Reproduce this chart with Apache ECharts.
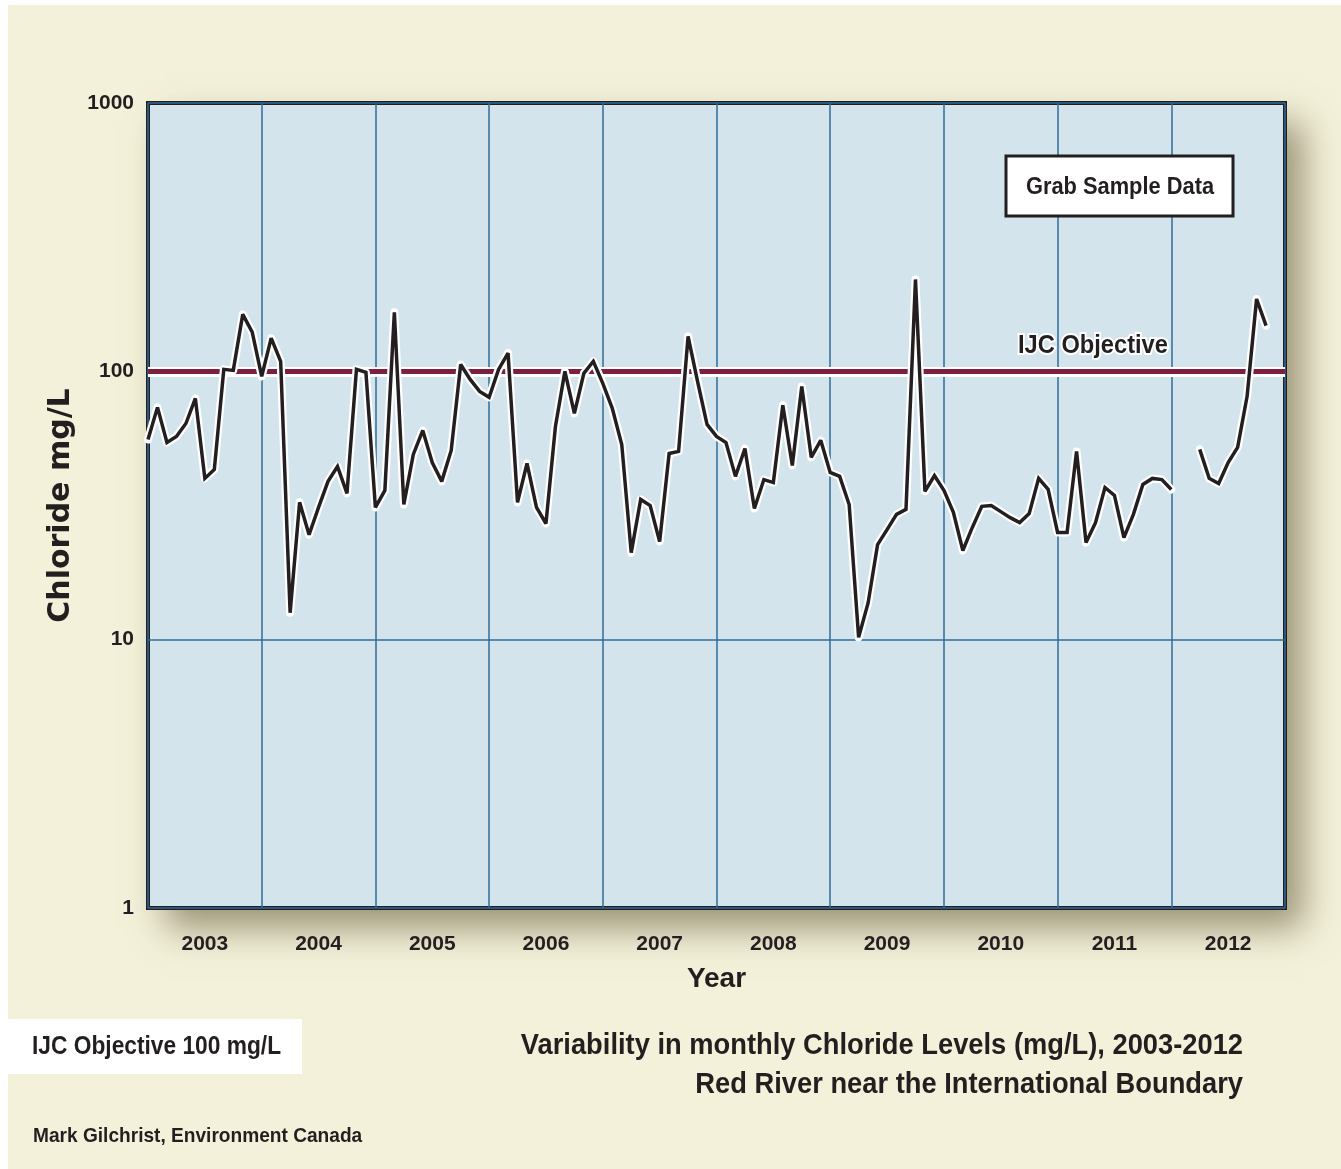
<!DOCTYPE html>
<html>
<head>
<meta charset="utf-8">
<script src="https://cdn.jsdelivr.net/npm/echarts@6/dist/echarts.min.js"></script>
<style>
  html, body { margin: 0; padding: 0; background: #ffffff; }
  #chart { width: 1341px; height: 1169px; }
</style>
</head>
<body>
<div id="chart"></div>
<script>
// monthly chloride (mg/L), Jan 2003 onward; null = no sample
var years = ['2003', '2004', '2005', '2006', '2007', '2008', '2009', '2010', '2011', '2012'];
var chloride = [
    55.7, 73.4, 54.3, 57.2, 63.9, 79.3, 39.9, 43.1, 101.7, 100.8, 163, 140,
    95.8, 133, 109, 12.6, 32.5, 24.6, 31.1, 38.9, 44.2, 35.1, 101.7, 99.1,
    31.1, 36.0, 166, 31.9, 49.0, 60.2, 45.7, 38.9, 50.7, 106, 93.3, 84.2,
    80.0, 101.7, 117, 32.5, 45.4, 31.1, 27.1, 62.3, 100, 69.7, 98.3, 109,
    90.2, 72.8, 53.4, 21.1, 33.3, 31.6, 23.2, 49.4, 50.3, 135, 91.8, 63.4,
    57.2, 54.3, 40.6, 51.6, 30.8, 39.5, 38.5, 74.7, 44.6, 87.9, 47.8, 55.3,
    42.0, 40.6, 31.9, 10.2, 13.7, 22.6, 25.7, 29.3, 30.6, 220, 35.7, 40.9,
    36.0, 29.8, 21.5, 26.2, 31.4, 31.6, 30.0, 28.5, 27.3, 29.5, 39.9, 36.3,
    25.1, 25.1, 50.3, 23.0, 27.3, 36.9, 34.5, 24.0, 29.3, 37.9, 39.9, 39.5,
    36.3, null, null, 51.2, 39.9, 38.2, 45.7, 52.1, 80.7, 186, 148
];
var yTicks = [1, 10, 100, 1000];
var objective = 100;

var sans = "'Liberation Sans', Arial, sans-serif";
var ink = '#231f20';
var squeeze = 0.91;   // no narrow font installed, so squeeze the annotation text

var pts = chloride.map(function (v, i) {
    return [2003 + i / 12, v == null ? '-' : v];
});

function note(x, y, text, size, align, extra) {
    var el = {
        type: 'text', x: x, y: y, scaleX: squeeze, z: 11,
        style: {
            text: text, fill: ink,
            font: 'bold ' + size + 'px ' + sans,
            textAlign: align, textVerticalAlign: 'middle'
        }
    };
    if (extra) Object.assign(el.style, extra);
    return el;
}

chart = echarts.init(document.getElementById('chart'));
chart.setOption({
    backgroundColor: '#f4f1da',
    animation: false,
    grid: {
        show: true,
        left: 148, top: 103, right: 56, bottom: 261,
        backgroundColor: 'transparent',
        borderColor: ink,
        borderWidth: 4,
        outerBoundsMode: 'none'
    },
    xAxis: [
        {
            type: 'category',
            data: years,
            boundaryGap: true,
            name: 'Year',
            nameLocation: 'middle',
            nameGap: 57,
            nameTextStyle: { fontFamily: sans, fontWeight: 'bold', fontSize: 28, color: ink },
            axisLine: { show: false },
            axisTick: { show: false },
            axisLabel: { margin: 26, fontFamily: sans, fontWeight: 'bold', fontSize: 21, color: ink },
            splitLine: { show: true, lineStyle: { color: '#2e6c99', width: 1.5 } }
        },
        {
            type: 'value',
            min: 2003, max: 2013,
            show: false
        }
    ],
    yAxis: {
        type: 'log',
        logBase: 10,
        min: 1, max: 1000,
        name: 'Chloride mg/L',
        nameLocation: 'middle',
        nameRotate: 90,
        nameGap: 53,
        nameTextStyle: { fontFamily: "'DejaVu Sans', sans-serif", fontWeight: 'bold', fontSize: 30, color: ink },
        axisLine: { show: false },
        axisTick: { show: false },
        minorTick: { show: false },
        axisLabel: {
            margin: 14, fontFamily: sans, fontWeight: 'bold', fontSize: 21, color: ink,
            formatter: function (v) { return yTicks.indexOf(Math.round(v)) >= 0 ? String(Math.round(v)) : ''; }
        },
        splitLine: { show: true, lineStyle: { color: '#2e6c99', width: 1.5 } }
    },
    series: [
        {
            // IJC objective line
            type: 'line',
            xAxisIndex: 1,
            data: [],
            z: 1,
            silent: true,
            markLine: {
                z: 1,
                silent: true,
                symbol: 'none',
                label: { show: false },
                data: [
                    { yAxis: objective, lineStyle: { color: '#ffffff', width: 10, type: 'solid' } },
                    { yAxis: objective, lineStyle: { color: '#7d1f3f', width: 5, type: 'solid' } }
                ]
            }
        },
        {
            // white halo
            type: 'line',
            xAxisIndex: 1,
            data: pts,
            z: 2,
            silent: true,
            showSymbol: false,
            connectNulls: false,
            lineStyle: { color: '#ffffff', width: 8, join: 'round', cap: 'round' }
        },
        {
            type: 'line',
            xAxisIndex: 1,
            data: pts,
            z: 3,
            showSymbol: false,
            connectNulls: false,
            lineStyle: { color: ink, width: 3.5, join: 'miter', miterLimit: 2.5 }
        }
    ],
    graphic: [
        { type: 'rect', left: 0, top: 0, shape: { width: 1341, height: 5 }, style: { fill: '#ffffff' } },
        { type: 'rect', left: 0, top: 0, shape: { width: 8, height: 1169 }, style: { fill: '#ffffff' } },
        {
            // plot panel with its drop shadow
            type: 'rect', x: 148, y: 103, z: -10,
            shape: { width: 1137, height: 805 },
            style: {
                fill: '#d3e4ec',
                shadowColor: 'rgba(80, 70, 35, 0.55)',
                shadowBlur: 34,
                shadowOffsetX: 18,
                shadowOffsetY: 20
            }
        },
        note(1018, 346, 'IJC Objective', 26, 'left', { stroke: '#ffffff', lineWidth: 4 }),
        {
            type: 'rect', x: 1006, y: 156, z: 10,
            shape: { width: 227, height: 60 },
            style: { fill: '#ffffff', stroke: ink, lineWidth: 3 }
        },
        note(1120, 187, 'Grab Sample Data', 24, 'center'),
        {
            type: 'rect', x: 8, y: 1019,
            shape: { width: 294, height: 55 },
            style: { fill: '#ffffff' }
        },
        note(32, 1047, 'IJC Objective 100 mg/L', 25, 'left'),
        note(1243, 1046, 'Variability in monthly Chloride Levels (mg/L), 2003-2012', 30, 'right'),
        note(1243, 1085, 'Red River near the International Boundary', 30, 'right'),
        note(33, 1136, 'Mark Gilchrist, Environment Canada', 21, 'left')
    ]
});
</script>
</body>
</html>
